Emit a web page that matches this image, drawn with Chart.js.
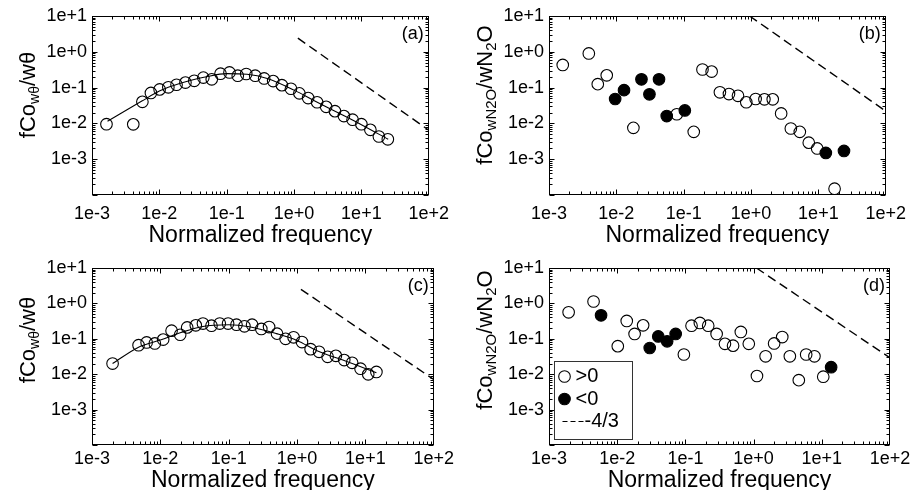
<!DOCTYPE html>
<html>
<head>
<meta charset="utf-8">
<script src="https://cdn.jsdelivr.net/npm/chart.js@4.4.1/dist/chart.umd.min.js"></script>
<style>
  html, body { margin: 0; padding: 0; background: #fff; }
  #wrap { position: relative; width: 914px; height: 490px; overflow: hidden; }
  canvas { position: absolute; }
</style>
</head>
<body>
<div id="wrap">
  <canvas id="panelA" width="457" height="245" style="left:0;top:0"></canvas>
  <canvas id="panelB" width="457" height="245" style="left:457px;top:0"></canvas>
  <canvas id="panelC" width="457" height="245" style="left:0;top:245px"></canvas>
  <canvas id="panelD" width="457" height="245" style="left:457px;top:245px"></canvas>
</div>
<script>
// axis ticks (same on every panel)
const xTicks = [1e-3, 1e-2, 1e-1, 1e0, 1e1, 1e2];
const xTickLabels = ['1e-3', '1e-2', '1e-1', '1e+0', '1e+1', '1e+2'];
const yTicks = [1e-4, 1e-3, 1e-2, 1e-1, 1e0, 1e1];
const yTickLabels = ['', '1e-3', '1e-2', '1e-1', '1e+0', '1e+1'];

// (a) cospectrum w-theta
const freqA = [0.00164, 0.0041, 0.0056, 0.0075, 0.0101, 0.0136, 0.018, 0.0244, 0.033, 0.045, 0.06,
  0.081, 0.11, 0.146, 0.195, 0.265, 0.36, 0.49, 0.66, 0.9, 1.2, 1.62, 2.2, 3.0, 4.05, 5.5, 7.4,
  10, 13.6, 18.2, 24.7];
const coA = [0.0095, 0.0094, 0.04, 0.071, 0.089, 0.102, 0.12, 0.138, 0.155, 0.19, 0.17,
  0.245, 0.265, 0.215, 0.24, 0.215, 0.18, 0.152, 0.117, 0.093, 0.069, 0.051, 0.039, 0.029, 0.022, 0.016, 0.0127,
  0.0095, 0.0066, 0.0043, 0.0036];
const fitFreqA = [0.0017, 0.0055, 0.01, 0.02, 0.05, 0.1, 0.2, 0.4, 1, 2, 5, 10, 25];
const fitA = [0.0115, 0.042, 0.08, 0.13, 0.2, 0.245, 0.235, 0.18, 0.085, 0.043, 0.018, 0.0092, 0.0036];
const slopeFreqA = [1.14, 100];
const slopeA = [2.4, 0.0065];

// (b) cospectrum w-N2O, positive and negative bins
const posFreqB = [0.0016, 0.0039, 0.0053, 0.0072, 0.0179, 0.079, 0.141, 0.19, 0.26, 0.345, 0.47, 0.64,
  0.85, 1.17, 1.58, 2.1, 2.8, 3.9, 5.3, 7.2, 9.6, 17.4];
const posB = [0.43, 0.9, 0.125, 0.22, 0.0075, 0.018, 0.0058, 0.32, 0.28, 0.074, 0.066, 0.059,
  0.039, 0.048, 0.047, 0.047, 0.019, 0.0072, 0.0058, 0.0029, 0.002, 0.00015];
const negFreqB = [0.0096, 0.013, 0.0236, 0.031, 0.043, 0.056, 0.104, 12.9, 24];
const negB = [0.048, 0.085, 0.17, 0.065, 0.17, 0.016, 0.023, 0.0015, 0.0017];
const slopeFreqB = [0.95, 100];
const slopeB = [10, 0.022];

// (c) cospectrum w-theta, second period
const freqC = [0.002, 0.0048, 0.0063, 0.0083, 0.011, 0.0146, 0.0195, 0.0247, 0.033, 0.042, 0.056,
  0.074, 0.098, 0.13, 0.17, 0.22, 0.30, 0.39, 0.51, 0.68, 0.89, 1.18, 1.58, 2.1, 2.8, 3.7, 4.9,
  6.4, 8.5, 11, 14.5];
const coC = [0.02, 0.066, 0.079, 0.074, 0.095, 0.17, 0.13, 0.21, 0.24, 0.27, 0.235,
  0.27, 0.27, 0.25, 0.225, 0.25, 0.19, 0.215, 0.14, 0.1, 0.11, 0.081, 0.051, 0.043, 0.031, 0.033, 0.025,
  0.021, 0.0143, 0.0099, 0.0116];
const fitFreqC = [0.002, 0.0048, 0.01, 0.02, 0.04, 0.1, 0.2, 0.5, 1, 2, 5, 14.5];
const fitC = [0.02, 0.058, 0.092, 0.15, 0.22, 0.25, 0.22, 0.14, 0.09, 0.045, 0.024, 0.011];
const slopeFreqC = [1.14, 100];
const slopeC = [2.5, 0.0071];

// (d) cospectrum w-N2O, second period
const posFreqD = [0.00194, 0.0045, 0.0102, 0.0138, 0.018, 0.024, 0.095, 0.123, 0.163, 0.216, 0.287,
  0.38, 0.5, 0.65, 0.85, 1.12, 1.5, 2.0, 2.63, 3.4, 4.6, 5.9, 7.8, 10.5];
const posD = [0.56, 1.13, 0.062, 0.32, 0.137, 0.24, 0.036, 0.235, 0.28, 0.235, 0.137,
  0.072, 0.064, 0.156, 0.072, 0.0089, 0.032, 0.074, 0.112, 0.032, 0.0068, 0.036, 0.032, 0.0085];
const negFreqD = [0.0058, 0.030, 0.040, 0.054, 0.072, 13.7];
const negD = [0.46, 0.055, 0.117, 0.085, 0.137, 0.0158];
const slopeFreqD = [1.1, 100];
const slopeD = [10, 0.029];

const FONT = '"Liberation Sans", Arial, Helvetica, sans-serif';

function pts(xs, ys) {
  return xs.map((v, i) => ({ x: v, y: ys[i] }));
}

function circles(xs, ys, filled, label) {
  return {
    type: 'scatter',
    label: label,
    data: pts(xs, ys),
    showLine: false,
    pointRadius: 5.8,
    pointBorderWidth: 1.1,
    pointBorderColor: '#000',
    pointBackgroundColor: filled ? '#000' : 'rgba(0,0,0,0)',
    order: 1
  };
}

function curve(xs, ys, dashed, label) {
  return {
    type: 'line',
    label: label,
    data: pts(xs, ys),
    showLine: true,
    pointRadius: 0,
    borderColor: '#000',
    borderWidth: dashed ? 1.4 : 1.1,
    borderDash: dashed ? [9, 5] : [],
    cubicInterpolationMode: dashed ? 'default' : 'monotone',
    fill: false,
    order: 2
  };
}

// box + inward major/minor ticks on all four sides, like the original
const framePlugin = {
  id: 'frame',
  afterDatasetsDraw(chart) {
    const { ctx, chartArea: a, scales: { x, y } } = chart;
    const L = Math.round(a.left) + 0.5, R = Math.round(a.right) - 0.5;
    const T = Math.round(a.top) + 0.5, B = Math.round(a.bottom) - 0.5;
    ctx.save();
    ctx.strokeStyle = '#000';
    ctx.lineWidth = 1;
    ctx.beginPath();
    for (let d = Math.log10(x.min); d < Math.log10(x.max); d++) {
      for (let k = 1; k < 10; k++) {
        const v = k * Math.pow(10, d);
        const p = Math.round(x.getPixelForValue(v)) + 0.5;
        const len = k === 1 ? 5 : 3;
        ctx.moveTo(p, B); ctx.lineTo(p, B - len);
        ctx.moveTo(p, T); ctx.lineTo(p, T + len);
      }
    }
    for (let d = Math.log10(y.min); d < Math.log10(y.max); d++) {
      for (let k = 1; k < 10; k++) {
        const v = k * Math.pow(10, d);
        const p = Math.round(y.getPixelForValue(v)) + 0.5;
        const len = k === 1 ? 5 : 3;
        ctx.moveTo(L, p); ctx.lineTo(L + len, p);
        ctx.moveTo(R, p); ctx.lineTo(R - len, p);
      }
    }
    ctx.stroke();
    ctx.strokeRect(L, T, R - L, B - T);
    ctx.restore();
  }
};

// rotated y title with subscripts, plus the (a)..(d) tag
const labelPlugin = {
  id: 'labels',
  afterDraw(chart, args, opts) {
    const { ctx, chartArea: a } = chart;
    ctx.save();
    const main = opts.mainSize + 'px ' + FONT, sub = opts.subSize + 'px ' + FONT;
    let total = 0;
    opts.parts.forEach(p => {
      ctx.font = p.sub ? sub : main;
      total += ctx.measureText(p.t).width;
    });
    ctx.translate(opts.titleX, opts.titleY);
    ctx.rotate(-Math.PI / 2);
    ctx.fillStyle = '#000';
    ctx.textBaseline = 'alphabetic';
    let cx = -total / 2;
    opts.parts.forEach(p => {
      ctx.font = p.sub ? sub : main;
      ctx.fillText(p.t, cx, p.sub ? 12 : 8);
      cx += ctx.measureText(p.t).width;
    });
    ctx.restore();

    ctx.save();
    ctx.font = '18px ' + FONT;
    ctx.fillStyle = '#000';
    ctx.textAlign = 'right';
    ctx.textBaseline = 'middle';
    ctx.fillText(opts.tag, a.right - 5, a.top + 18);
    ctx.restore();
  }
};

// boxed legend in the lower-left corner (panel d only)
const boxLegendPlugin = {
  id: 'boxLegend',
  afterDraw(chart, args, opts) {
    if (!opts.show) return;
    const { ctx, chartArea: a } = chart;
    const w = 78, h = 78;
    const left = Math.round(a.left) + 5.5, top = Math.round(a.bottom) - 5.5 - h;
    ctx.save();
    ctx.fillStyle = '#fff';
    ctx.fillRect(left, top, w, h);
    ctx.strokeStyle = '#333';
    ctx.lineWidth = 1;
    ctx.strokeRect(left, top, w, h);
    ctx.font = '20px ' + FONT;
    ctx.textBaseline = 'middle';
    ctx.fillStyle = '#000';
    const items = chart.data.datasets.filter(ds => ds.label);
    items.forEach((ds, i) => {
      const cy = top + 15 + i * 22.5;
      if (ds.showLine) {
        ctx.save();
        ctx.setLineDash([5, 3]);
        ctx.lineWidth = 1.2;
        ctx.strokeStyle = '#000';
        ctx.beginPath();
        ctx.moveTo(left + 8, cy);
        ctx.lineTo(left + 29, cy);
        ctx.stroke();
        ctx.restore();
        ctx.fillText(ds.label, left + 30, cy);
      } else {
        ctx.beginPath();
        ctx.arc(left + 10, cy, 5.8, 0, Math.PI * 2);
        ctx.fillStyle = ds.pointBackgroundColor;
        ctx.fill();
        ctx.lineWidth = 1.1;
        ctx.strokeStyle = '#000';
        ctx.stroke();
        ctx.fillStyle = '#000';
        ctx.fillText(ds.label, left + 21, cy);
      }
    });
    ctx.restore();
  }
};

function makePanel(id, datasets, cfg) {
  return new Chart(document.getElementById(id), {
    type: 'scatter',
    data: { datasets: datasets },
    plugins: [framePlugin, labelPlugin, boxLegendPlugin],
    options: {
      responsive: false,
      animation: false,
      events: [],
      layout: { padding: { left: 0, right: cfg.right, top: cfg.top, bottom: 0 } },
      plugins: {
        legend: { display: false },
        tooltip: { enabled: false },
        labels: { parts: cfg.parts, tag: cfg.tag, titleX: 27, titleY: 95, mainSize: cfg.mainSize, subSize: cfg.subSize },
        boxLegend: { show: !!cfg.legend }
      },
      scales: {
        x: {
          type: 'logarithmic',
          min: 1e-3,
          max: 1e2,
          afterBuildTicks: s => { s.ticks = xTicks.map(v => ({ value: v })); },
          afterFit: s => { s.height = cfg.bottomH; },
          ticks: {
            callback: (v, i) => xTickLabels[i],
            autoSkip: false,
            maxRotation: 0,
            padding: cfg.tickPad,
            color: '#000',
            font: { family: FONT, size: 18 }
          },
          grid: { display: false, drawTicks: false },
          border: { display: false },
          title: {
            display: true,
            text: 'Normalized frequency',
            color: '#000',
            font: { family: FONT, size: 23, lineHeight: 0.8 },
            padding: 0
          }
        },
        y: {
          type: 'logarithmic',
          min: 1e-4,
          max: 1e1,
          afterBuildTicks: s => { s.ticks = yTicks.map(v => ({ value: v })); },
          afterFit: s => { s.width = 92; },
          ticks: {
            callback: (v, i) => yTickLabels[i],
            autoSkip: false,
            padding: 5,
            color: '#000',
            font: { family: FONT, size: 18 }
          },
          grid: { display: false, drawTicks: false },
          border: { display: false }
        }
      }
    }
  });
}

const thetaTitle = [{ t: 'fCo' }, { t: 'w\u03b8', sub: true }, { t: '/w\u03b8' }];
const n2oTitle = [{ t: 'fCo' }, { t: 'wN2O', sub: true }, { t: '/wN' }, { t: '2', sub: true }, { t: 'O' }];

makePanel('panelA', [
  curve(fitFreqA, fitA, false),
  curve(slopeFreqA, slopeA, true),
  circles(freqA, coA, false)
], { top: 16, right: 23, bottomH: 50, tickPad: 8, parts: thetaTitle, tag: '(a)', mainSize: 22, subSize: 14 });

makePanel('panelB', [
  curve(slopeFreqB, slopeB, true),
  circles(posFreqB, posB, false),
  circles(negFreqB, negB, true)
], { top: 16, right: 24, bottomH: 50, tickPad: 8, parts: n2oTitle, tag: '(b)', mainSize: 22, subSize: 15 });

makePanel('panelC', [
  curve(fitFreqC, fitC, false),
  curve(slopeFreqC, slopeC, true),
  circles(freqC, coC, false)
], { top: 23, right: 23, bottomH: 45, tickPad: 3, parts: thetaTitle, tag: '(c)', mainSize: 22, subSize: 14 });

makePanel('panelD', [
  circles(posFreqD, posD, false, '>0'),
  circles(negFreqD, negD, true, '<0'),
  curve(slopeFreqD, slopeD, true, '-4/3')
], { top: 23, right: 24, bottomH: 45, tickPad: 3, parts: n2oTitle, tag: '(d)', legend: true, mainSize: 22, subSize: 15 });
</script>
</body>
</html>
